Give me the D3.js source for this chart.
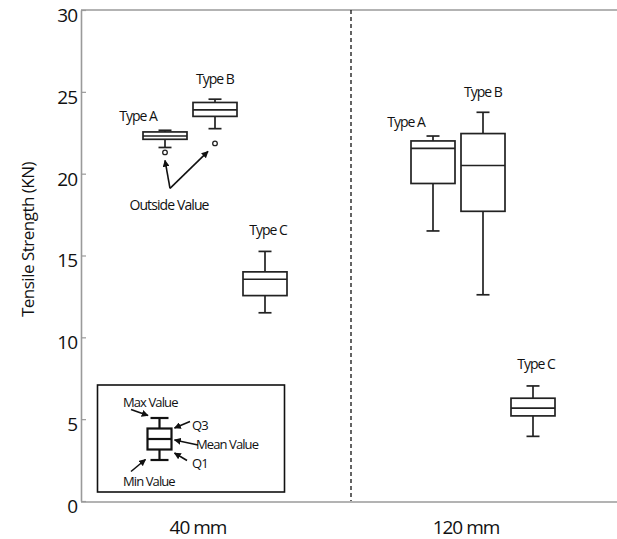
<!DOCTYPE html>
<html>
<head>
<meta charset="utf-8">
<script src="https://cdn.jsdelivr.net/npm/d3@7"></script>
<style>
  html, body { margin: 0; padding: 0; background: #fff; }
  svg { display: block; }
  text { font-family: "Open Sans", "DejaVu Sans", sans-serif; fill: #111; }
</style>
</head>
<body>
<svg id="chart" width="617" height="539"></svg>
<script>
// ---- data ----
const groups = ["40 mm", "120 mm"];
const types = ["Type A", "Type B", "Type C"];
const boxGroup = ["40 mm", "40 mm", "40 mm", "120 mm", "120 mm", "120 mm"];
const boxType = ["Type A", "Type B", "Type C", "Type A", "Type B", "Type C"];
const minValue = [21.6, 22.75, 11.5, 16.5, 12.6, 3.95];
const q1Value = [22.1, 23.5, 12.55, 19.4, 17.7, 5.2];
const medianValue = [22.3, 23.9, 13.55, 21.55, 20.5, 5.67];
const q3Value = [22.55, 24.35, 14.0, 22.0, 22.45, 6.28];
const maxValue = [22.65, 24.55, 15.25, 22.3, 23.75, 7.03];
const outlierValue = [21.3, 21.85, null, null, null, null];
const yTicks = [0, 5, 10, 15, 20, 25, 30];
const legendLabels = ["Min Value", "Q1", "Mean Value", "Q3", "Max Value"];
const legendSteps = [0, 1, 2, 3, 4];
const outsideLabel = "Outside Value";
const yTitle = "Tensile Strength (KN)";

// ---- layout ----
const svg = d3.select("#chart");
const mLeft = 81, mRight = 617, mTop = 10, mBottom = 501;
const y = d3.scaleLinear().domain([0, 30]).range([mBottom, mTop]);
const xg = d3.scaleBand().domain(groups).range([mLeft, mRight]).padding(0);
const xi = d3.scaleBand().domain(types).range([-75, 75]).paddingInner(0.12).paddingOuter(0.06);
const boxW = xi.bandwidth();
const capW = 13;
const cx = i => xg(boxGroup[i]) + xg.bandwidth() / 2 + xi(boxType[i]) + xi.bandwidth() / 2;

const defs = svg.append("defs");
defs.append("marker").attr("id", "arr").attr("viewBox", "0 0 10 10")
  .attr("refX", 9).attr("refY", 5).attr("markerWidth", 7).attr("markerHeight", 7)
  .attr("orient", "auto").attr("markerUnits", "userSpaceOnUse")
  .append("path").attr("d", "M0,0 L10,5 L0,10 z").attr("fill", "#111");

// frame
const axisColor = "#9a9a9a";
svg.append("line").attr("x1", mLeft).attr("x2", mRight + 2).attr("y1", mTop).attr("y2", mTop)
  .attr("stroke", axisColor).attr("stroke-width", 1.6);
svg.append("line").attr("x1", mLeft).attr("x2", mRight + 2).attr("y1", mBottom + 1).attr("y2", mBottom + 1)
  .attr("stroke", axisColor).attr("stroke-width", 1.6);

// y axis
const yAxis = d3.axisRight(y).tickValues(yTicks).tickSize(5).tickSizeOuter(0).tickFormat(d3.format("d"));
const ga = svg.append("g").attr("transform", `translate(${mLeft},0)`).call(yAxis);
ga.select(".domain").attr("stroke", axisColor).attr("stroke-width", 1.6);
ga.selectAll(".tick line").attr("stroke", axisColor).attr("stroke-width", 1.2);
ga.selectAll(".tick text").attr("x", -4).attr("dy", "0.6em").attr("text-anchor", "end")
  .attr("font-size", 19).attr("letter-spacing", -1).attr("fill", "#111")
  .attr("font-family", "'Open Sans', sans-serif");

// y title
svg.append("text").attr("transform", `translate(27,${(mTop + mBottom) / 2 - 16}) rotate(-90)`)
  .attr("text-anchor", "middle").attr("dominant-baseline", "central")
  .attr("font-size", 17).attr("letter-spacing", -0.5).text(yTitle);

// group labels
svg.selectAll(".glab").data(groups).join("text").attr("class", "glab")
  .attr("x", d => xg(d) + xg.bandwidth() / 2 - 17).attr("y", 527)
  .attr("text-anchor", "middle").attr("dominant-baseline", "central")
  .attr("font-size", 19).attr("letter-spacing", -1).text(d => d);

// divider
svg.append("line").attr("x1", xg(groups[1]) + 2).attr("x2", xg(groups[1]) + 2)
  .attr("y1", mTop).attr("y2", mBottom)
  .attr("stroke", "#111").attr("stroke-width", 1.3).attr("stroke-dasharray", "4,3");

// boxes
const idx = d3.range(boxGroup.length);
const stroke = "#222", sw = 1.7;
const gb = svg.selectAll(".box").data(idx).join("g").attr("class", "box");
gb.append("line").attr("x1", cx).attr("x2", cx).attr("y1", i => y(maxValue[i])).attr("y2", i => y(q3Value[i]))
  .attr("stroke", stroke).attr("stroke-width", sw);
gb.append("line").attr("x1", cx).attr("x2", cx).attr("y1", i => y(q1Value[i])).attr("y2", i => y(minValue[i]))
  .attr("stroke", stroke).attr("stroke-width", sw);
gb.append("line").attr("x1", i => cx(i) - capW / 2).attr("x2", i => cx(i) + capW / 2)
  .attr("y1", i => y(maxValue[i])).attr("y2", i => y(maxValue[i])).attr("stroke", stroke).attr("stroke-width", sw);
gb.append("line").attr("x1", i => cx(i) - capW / 2).attr("x2", i => cx(i) + capW / 2)
  .attr("y1", i => y(minValue[i])).attr("y2", i => y(minValue[i])).attr("stroke", stroke).attr("stroke-width", sw);
gb.append("rect").attr("x", i => cx(i) - boxW / 2).attr("width", boxW)
  .attr("y", i => y(q3Value[i])).attr("height", i => y(q1Value[i]) - y(q3Value[i]))
  .attr("fill", "none").attr("stroke", stroke).attr("stroke-width", sw);
gb.append("line").attr("x1", i => cx(i) - boxW / 2).attr("x2", i => cx(i) + boxW / 2)
  .attr("y1", i => y(medianValue[i])).attr("y2", i => y(medianValue[i])).attr("stroke", stroke).attr("stroke-width", sw);
gb.filter(i => outlierValue[i] != null).append("circle")
  .attr("cx", cx).attr("cy", i => y(outlierValue[i])).attr("r", 2.3)
  .attr("fill", "#fff").attr("stroke", stroke).attr("stroke-width", 1.3);

// type labels
const labDx = { "Type A": -27, "Type B": 0, "Type C": 3 };
const labDy = { "Type A": -15, "Type B": -21, "Type C": -22 };
gb.append("text").attr("x", i => cx(i) + labDx[boxType[i]]).attr("y", i => y(maxValue[i]) + labDy[boxType[i]])
  .attr("text-anchor", "middle").attr("dominant-baseline", "central")
  .attr("font-size", 14).attr("letter-spacing", -1).text(i => boxType[i]);

// outside value annotation
const oIdx = idx.filter(i => outlierValue[i] != null);
const ox = cx(oIdx[0]) + 4, oy = y(outlierValue[oIdx[0]]) + 52;
svg.append("text").attr("x", ox).attr("y", oy).attr("text-anchor", "middle").attr("dominant-baseline", "central")
  .attr("font-size", 14).attr("letter-spacing", -0.9).text(outsideLabel);
const sx = ox + 1, sy = oy - 16;
oIdx.forEach((i, k) => {
  const tx = cx(i) + (k === 0 ? 0 : -7), ty = y(outlierValue[i]) + 8;
  svg.append("line").attr("x1", sx).attr("y1", sy).attr("x2", tx).attr("y2", ty)
    .attr("stroke", "#111").attr("stroke-width", 1.6).attr("marker-end", "url(#arr)");
});

// legend
const lg = svg.append("g");
lg.append("rect").attr("x", 97.5).attr("y", 385).attr("width", 187).attr("height", 107)
  .attr("fill", "none").attr("stroke", "#111").attr("stroke-width", 1.6);
const ly = d3.scaleLinear().domain([0, 4]).range([460, 418]);
const lcx = 159.5, lbw = 24, lcw = 18, lsw = 2.2;
lg.append("line").attr("x1", lcx).attr("x2", lcx).attr("y1", ly(4)).attr("y2", ly(0)).attr("stroke", "#111").attr("stroke-width", lsw);
[0, 4].forEach(s => lg.append("line").attr("x1", lcx - lcw / 2).attr("x2", lcx + lcw / 2)
  .attr("y1", ly(s)).attr("y2", ly(s)).attr("stroke", "#111").attr("stroke-width", lsw));
lg.append("rect").attr("x", lcx - lbw / 2).attr("width", lbw).attr("y", ly(3)).attr("height", ly(1) - ly(3))
  .attr("fill", "#fff").attr("stroke", "#111").attr("stroke-width", lsw);
lg.append("line").attr("x1", lcx - lbw / 2).attr("x2", lcx + lbw / 2).attr("y1", ly(2)).attr("y2", ly(2))
  .attr("stroke", "#111").attr("stroke-width", lsw);
// legend labels and arrows
const legText = [
  { s: 4, tx: 123, ty: 401.5, anchor: "start", a: [131, 409.5, 148, 415.5] },
  { s: 3, tx: 192, ty: 425, anchor: "start", a: [190, 421.5, 174.5, 428] },
  { s: 2, tx: 196, ty: 443.5, anchor: "start", a: [198, 445, 174.5, 440] },
  { s: 1, tx: 192, ty: 462.5, anchor: "start", a: [187, 460.5, 174.5, 453] },
  { s: 0, tx: 123, ty: 481, anchor: "start", a: [131, 471.5, 145.5, 459.5] }
];
legText.forEach(d => {
  lg.append("text").attr("x", d.tx).attr("y", d.ty).attr("text-anchor", d.anchor)
    .attr("dominant-baseline", "central").attr("font-size", 13).attr("letter-spacing", -0.9)
    .text(legendLabels[legendSteps.indexOf(d.s)]);
  lg.append("line").attr("x1", d.a[0]).attr("y1", d.a[1]).attr("x2", d.a[2]).attr("y2", d.a[3])
    .attr("stroke", "#111").attr("stroke-width", 1.6).attr("marker-end", "url(#arr)");
});
</script>
</body>
</html>
